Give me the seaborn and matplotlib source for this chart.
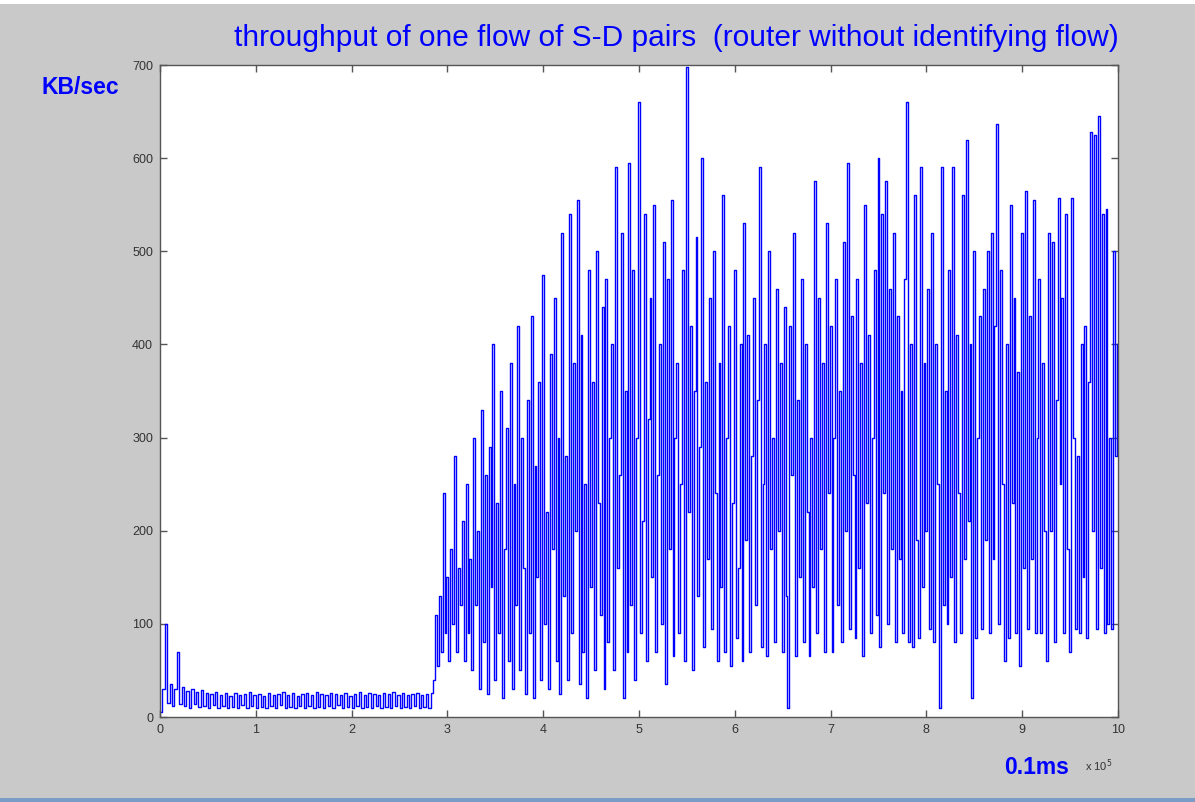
import numpy as np
import pandas as pd
import matplotlib
matplotlib.use("Agg")
import matplotlib.pyplot as plt
import seaborn as sns

# ----------------------
# Data
# ----------------------

# time unit is 0.1ms; the quiet phase is sampled coarser than the busy one
LOW_STEP = 2500
BUSY_STEP = 2000
BUSY_START = 285000

# quiet phase, 0 .. 2.85e5
low_phase = [
    5, 30, 100, 15, 35, 12, 30, 70, 14, 32,
    12, 28, 10, 30, 14, 27, 11, 29, 12, 26,
    10, 25, 13, 27, 10, 24, 12, 26, 10, 23,
    11, 26, 10, 24, 13, 25, 10, 27, 12, 24,
    10, 25, 11, 23, 10, 26, 12, 24, 10, 25,
    13, 27, 10, 24, 11, 26, 10, 23, 12, 25,
    10, 26, 12, 24, 10, 27, 11, 25, 10, 24,
    12, 26, 10, 25, 13, 24, 10, 26, 11, 23,
    10, 25, 12, 27, 10, 24, 11, 26, 10, 25,
    12, 24, 10, 26, 11, 25, 10, 27, 12, 24,
    10, 26, 11, 24, 10, 25, 12, 26, 10, 24,
    11, 25, 10, 26,
]

# busy phase, 2.85e5 .. 10e5
busy_phase = [
    40, 110, 55, 130, 70, 240, 90, 150, 60, 180,
    100, 280, 70, 160, 120, 210, 60, 250, 90, 170,
    50, 300, 120, 200, 30, 330, 80, 260, 25, 290,
    140, 400, 40, 230, 90, 350, 20, 180, 310, 60,
    380, 30, 250, 120, 420, 50, 300, 160, 25, 340,
    90, 430, 20, 270, 150, 360, 40, 475, 100, 220,
    30, 390, 180, 450, 60, 300, 25, 520, 130, 280,
    40, 540, 90, 380, 200, 555, 35, 410, 70, 250,
    20, 480, 140, 360, 50, 500, 230, 110, 440, 30,
    470, 80, 300, 400, 50, 590, 160, 260, 520, 20,
    350, 70, 595, 120, 480, 40, 300, 660, 90, 210,
    540, 60, 320, 450, 150, 550, 70, 260, 400, 100,
    510, 35, 470, 180, 555, 65, 300, 380, 90, 250,
    480, 60, 698, 220, 420, 50, 350, 515, 130, 290,
    600, 75, 360, 170, 450, 95, 500, 240, 60, 380,
    140, 560, 70, 300, 420, 55, 230, 480, 85, 160,
    400, 60, 530, 190, 410, 70, 280, 450, 120, 340,
    590, 75, 250, 400, 65, 500, 180, 300, 80, 460,
    200, 380, 70, 440, 130, 10, 420, 260, 520, 65,
    340, 150, 470, 80, 400, 220, 65, 300, 140, 575,
    90, 450, 180, 380, 70, 530, 240, 420, 70, 300,
    470, 120, 350, 80, 510, 200, 595, 95, 430, 260,
    85, 470, 160, 380, 65, 550, 230, 410, 90, 300,
    480, 110, 600, 75, 540, 240, 575, 100, 460, 180,
    520, 80, 430, 170, 350, 90, 470, 660, 80, 400,
    75, 560, 190, 85, 590, 140, 380, 200, 460, 95,
    520, 80, 400, 250, 10, 590, 120, 350, 100, 480,
    150, 590, 80, 410, 240, 90, 560, 170, 620, 210,
    400, 20, 500, 85, 300, 430, 95, 460, 190, 500,
    90, 520, 170, 420, 637, 100, 480, 250, 60, 400,
    85, 550, 230, 450, 90, 370, 55, 520, 160, 565,
    95, 430, 170, 555, 90, 300, 470, 90, 380, 200,
    60, 520, 200, 510, 80, 340, 557, 250, 450, 90,
    540, 180, 70, 557, 300, 95, 280, 90, 400, 150,
    420, 85, 360, 628, 200, 625, 95, 645, 160, 540,
    90, 545, 100, 300, 95, 500, 280, 400,
]

x_ticks = [0, 1, 2, 3, 4, 5, 6, 7, 8, 9, 10]
y_ticks = [0, 100, 200, 300, 400, 500, 600, 700]

time = np.concatenate([
    np.arange(len(low_phase)) * LOW_STEP,
    BUSY_START + np.arange(len(busy_phase)) * BUSY_STEP,
])
df = pd.DataFrame({"time": time, "kbps": low_phase + busy_phase})

# ----------------------
# Figure
# ----------------------

FONT = ["Liberation Sans", "DejaVu Sans"]
BG = "#c9c9c9"
BLUE = "#0000ff"

fig = plt.figure(figsize=(11.95, 8.02), dpi=100, facecolor=BG)
ax = fig.add_axes([160 / 1195, 1 - 717 / 802, 958 / 1195, 652 / 802])
ax.set_facecolor("white")

sns.lineplot(data=df, x="time", y="kbps", ax=ax, color=BLUE, linewidth=1.0,
             estimator=None, drawstyle="steps-post", legend=False)

ax.set_xlim(0, 1e6)
ax.set_ylim(0, 700)
ax.set_xticks([t * 1e5 for t in x_ticks])
ax.set_xticklabels([str(t) for t in x_ticks])
ax.set_yticks(y_ticks)
ax.set_yticklabels([str(t) for t in y_ticks])
ax.set_xlabel("")
ax.set_ylabel("")

ax.tick_params(direction="in", length=5, width=1, colors="#555555",
               top=True, right=True, labelsize=9, pad=5)
for lab in ax.get_xticklabels() + ax.get_yticklabels():
    lab.set_family(FONT)
    lab.set_color("#333333")
for side in ax.spines.values():
    side.set_color("#555555")
    side.set_linewidth(1.0)

# texts
fig.text(676 / 1195, 1 - 38 / 802,
         "throughput of one flow of S-D pairs  (router without identifying flow)",
         ha="center", va="center", color=BLUE, fontsize=21.5, family=FONT)
fig.text(80 / 1195, 1 - 88 / 802, "KB/sec", ha="center", va="center",
         color=BLUE, fontsize=16.5, fontweight="bold", family=FONT)
fig.text(1037 / 1195, 1 - 767 / 802, "0.1ms", ha="center", va="center",
         color=BLUE, fontsize=16.5, fontweight="bold", family=FONT)
fig.text(1085 / 1195, 1 - 766 / 802, r"x 10$^5$", ha="left", va="center",
         color="#333333", fontsize=8, family=FONT)

# window edges
fig.add_artist(plt.Rectangle((0, 1 - 4 / 802), 1, 4 / 802,
                             transform=fig.transFigure, color="white", lw=0))
fig.add_artist(plt.Rectangle((0, 0), 1, 4 / 802,
                             transform=fig.transFigure, color="#7a9cc6", lw=0))

fig.savefig("out.png", dpi=100, facecolor=BG)
